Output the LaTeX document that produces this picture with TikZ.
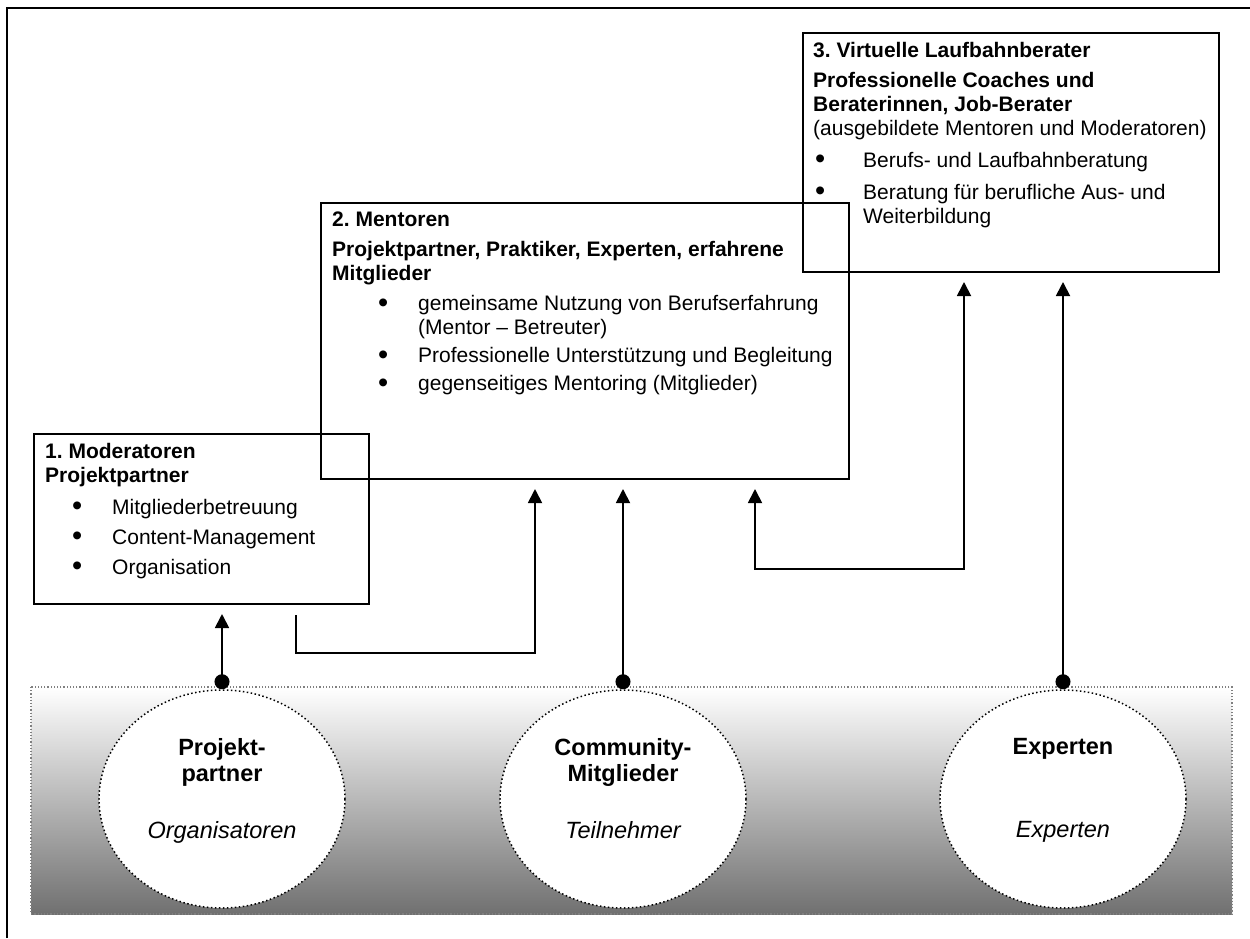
\documentclass[tikz,border=0pt]{standalone}
\usepackage{fontspec}
\setmainfont{Liberation Sans}
\usetikzlibrary{positioning,arrows.meta,shapes.geometric}
\frenchspacing

\newcommand{\blt}{\raisebox{-1.5pt}{\fontsize{29}{24}\selectfont\textbullet}}
\newcommand{\bitem}[3]{\hspace*{#1}\makebox[#2][l]{\blt}#3}

\begin{document}
\begin{tikzpicture}[x=1pt, y=-1pt,
        box/.style={draw, line width=2pt, inner sep=0pt, anchor=north west},
        boxtext/.style={inner sep=0pt, align=left, font=\fontsize{21}{24}\selectfont},
        group/.style={ellipse, draw, fill=white, line width=1.5pt, dash pattern=on 1.5pt off 2.5pt,
            minimum width=246pt, minimum height=218pt, inner sep=0pt, font=\fontsize{23.5}{26}\selectfont},
        link/.style={line width=1.8pt, -{Triangle[width=14pt,length=14pt]}, shorten >=9pt},
        feed/.style={link, {Circle[length=15pt]}-{Triangle[width=14pt,length=14pt]}}]

        \useasboundingbox (0,0) rectangle (1250,938);

        % Frame
        \draw[line width=2.5pt] (7,938) -- (7,8) -- (1250,8);

        % Shaded base
        \shade[top color=white, middle color=black!22, bottom color=black!56] (31,687) rectangle (1232,914);
        \draw[gray, line width=1.2pt, dash pattern=on 1.2pt off 2pt] (31,687) rectangle (1232,914);

        % Groups
        \node[group] (pp) at (222,799) {\parbox[c][122pt][t]{170pt}{\centering\bfseries Projekt-\\partner\\[31pt]\mdseries\itshape Organisatoren}};
        \node[group] (cm) at (623,799) {\parbox[c][122pt][t]{170pt}{\centering\bfseries Community-\\Mitglieder\\[31pt]\mdseries\itshape Teilnehmer}};
        \node[group] (ex) at (1063,799) {\parbox[c][122pt][t]{170pt}{\centering\bfseries Experten\\[57pt]\mdseries\itshape Experten}};

        % Role boxes
        \node[box, minimum width=416pt, minimum height=239pt] (vlb) at (802,32) {};
        \node[box, minimum width=528pt, minimum height=276pt] (ment) at (320,202) {};
        \node[box, minimum width=335pt, minimum height=170pt] (mod) at (33,433) {};

        % Box texts
        \node[boxtext, below right=10pt and 11pt of vlb.north west] (vlb text) {%
            \textbf{3. Virtuelle Laufbahnberater}\\[6pt]
            \textbf{Professionelle Coaches und}\\
            \textbf{Beraterinnen, Job-Berater}\\
            (ausgebildete Mentoren und Moderatoren)\\[8pt]
            \bitem{2pt}{48pt}{Berufs- und Laufbahnberatung}\\[8pt]
            \bitem{2pt}{48pt}{Beratung für berufliche Aus- und}\\
            \hspace*{50pt}Weiterbildung};
        \node[boxtext, below right=10pt and 12pt of ment.north west] (ment text) {%
            \textbf{2. Mentoren}\\[6pt]
            \textbf{Projektpartner, Praktiker, Experten, erfahrene}\\
            \textbf{Mitglieder}\\[6pt]
            \bitem{46pt}{40pt}{gemeinsame Nutzung von Berufserfahrung}\\
            \hspace*{86pt}(Mentor – Betreuter)\\[4pt]
            \bitem{46pt}{40pt}{Professionelle Unterstützung und Begleitung}\\[4pt]
            \bitem{46pt}{40pt}{gegenseitiges Mentoring (Mitglieder)}};
        \node[boxtext, below right=10pt and 12pt of mod.north west] (mod text) {%
            \textbf{1. Moderatoren}\\
            \textbf{Projektpartner}\\[8pt]
            \bitem{27pt}{40pt}{Mitgliederbetreuung}\\[6pt]
            \bitem{27pt}{40pt}{Content-Management}\\[6pt]
            \bitem{27pt}{40pt}{Organisation}};

        % Connections
        \draw[feed] (pp.north) -- (pp.north |- mod.south);
        \draw[feed] (cm.north) -- (cm.north |- ment.south);
        \draw[feed] (ex.north) -- (ex.north |- vlb.south);
        \draw[link] ([xshift=-74pt,yshift=-10pt]mod.south east) -- ++(0,38) -| ([xshift=-50pt]ment.south);
        \draw[link, shorten <=9pt, {Triangle[width=14pt,length=14pt]}-{Triangle[width=14pt,length=14pt]}] ([xshift=170pt]ment.south) -- ++(0,89) -| ([xshift=-47pt]vlb.south);

\end{tikzpicture}
\end{document}
